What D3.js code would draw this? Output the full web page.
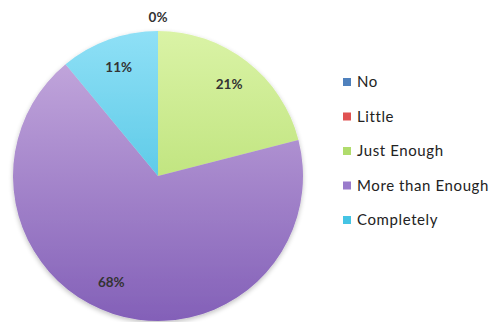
<!DOCTYPE html>
<html>
<head>
<meta charset="utf-8">
<script src="https://cdn.jsdelivr.net/npm/d3@7"></script>
<style>
  body { margin: 0; background: #fff; }
  svg { display: block; font-family: Lato, "Open Sans", sans-serif; }
</style>
</head>
<body>
<svg id="chart" width="499" height="322"></svg>
<script>
// chart data
const categories = ["No", "Little", "Just Enough", "More than Enough", "Completely"];
const values = [0, 0, 21, 68, 11];
const labels = ["0%", "", "21%", "68%", "11%"];

// colours: [legend / base, light top, dark bottom]
const colors = [
  ["#4f81bd", "#7aa3d8", "#3e6aa6"],
  ["#e05252", "#ee8080", "#c03c3c"],
  ["#b0dc6c", "#daf3a6", "#a9d75c"],
  ["#9a7bcc", "#c8addf", "#8360b8"],
  ["#45c4e4", "#8fe0f6", "#2fb6da"]
];

const width = 499, height = 322;
const cx = 158, cy = 176, radius = 145;

const svg = d3.select("#chart");
const defs = svg.append("defs");

colors.forEach((c, i) => {
  const g = defs.append("linearGradient")
      .attr("id", "grad" + i)
      .attr("gradientUnits", "userSpaceOnUse")
      .attr("x1", 0).attr("y1", -radius)
      .attr("x2", 0).attr("y2", radius);
  g.append("stop").attr("offset", "0%").attr("stop-color", c[1]);
  g.append("stop").attr("offset", "100%").attr("stop-color", c[2]);
});

const shadow = defs.append("filter").attr("id", "shadow")
    .attr("x", "-10%").attr("y", "-10%").attr("width", "120%").attr("height", "125%");
shadow.append("feGaussianBlur").attr("in", "SourceAlpha").attr("stdDeviation", 2.5);
shadow.append("feOffset").attr("dy", 2).attr("result", "blur");
shadow.append("feComponentTransfer").append("feFuncA").attr("type", "linear").attr("slope", 0.25);
const merge = shadow.append("feMerge");
merge.append("feMergeNode");
merge.append("feMergeNode").attr("in", "SourceGraphic");

const pie = d3.pie().sort(null).value(d => d);
const arcs = pie(values);

const arc = d3.arc().innerRadius(0).outerRadius(radius);
const labelArc = d3.arc().innerRadius(radius * 0.8).outerRadius(radius * 0.8);
const outerArc = d3.arc().innerRadius(radius + 14).outerRadius(radius + 14);

const g = svg.append("g")
    .attr("transform", `translate(${cx},${cy})`);

g.append("g").attr("filter", "url(#shadow)")
  .selectAll("path")
  .data(arcs)
  .join("path")
    .attr("d", arc)
    .attr("fill", (d, i) => `url(#grad${i})`);

// percentage labels (Excel nudges the big slice label a little round)
g.selectAll("text.pct")
  .data(arcs)
  .join("text")
    .attr("class", "pct")
    .attr("transform", d => {
      let p;
      if (d.value === 0) p = outerArc.centroid(d);
      else if (d.value > 50) {
        const a = (d.startAngle + d.endAngle) / 2 + 0.1;
        const r = radius * 0.8;
        p = [Math.sin(a) * r, -Math.cos(a) * r];
      } else p = labelArc.centroid(d);
      return `translate(${p})`;
    })
    .attr("text-anchor", "middle")
    .attr("dy", "0.35em")
    .attr("font-size", 13.5)
    .attr("font-weight", "bold")
    .attr("fill", "#333")
    .text((d, i) => labels[i]);

// legend
const legend = svg.append("g")
    .attr("transform", "translate(343,82)");

const item = legend.selectAll("g")
  .data(categories)
  .join("g")
    .attr("transform", (d, i) => `translate(0,${i * 34.5})`);

item.append("rect")
    .attr("x", 0).attr("y", -4)
    .attr("width", 8).attr("height", 8)
    .attr("fill", (d, i) => colors[i][0]);

item.append("text")
    .attr("x", 14)
    .attr("dy", "0.36em")
    .attr("font-size", 15)
    .attr("letter-spacing", 0.6)
    .attr("fill", "#222")
    .text(d => d);
</script>
</body>
</html>
